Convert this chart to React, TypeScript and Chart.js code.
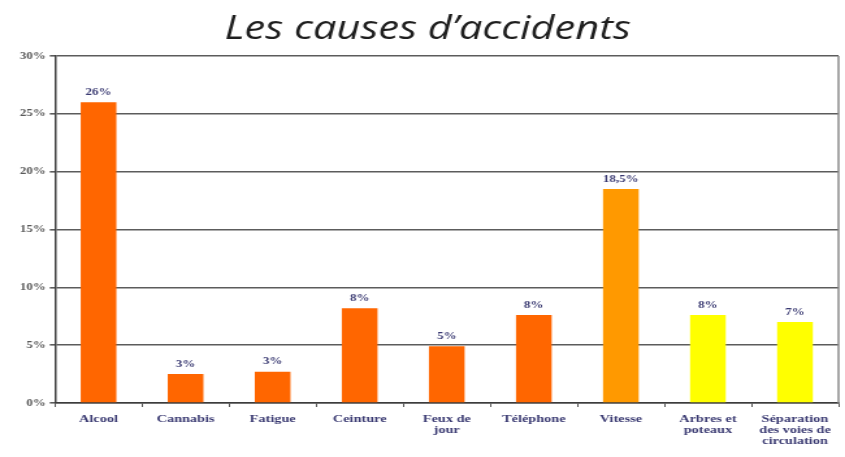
import React, { useEffect, useRef } from "react";
import { Chart, registerables } from "chart.js";

Chart.register(...registerables);

const categories: (string | string[])[] = [
  "Alcool",
  "Cannabis",
  "Fatigue",
  "Ceinture",
  ["Feux de", "jour"],
  "Téléphone",
  "Vitesse",
  ["Arbres et", "poteaux"],
  ["Séparation", "des voies de", "circulation"],
];
const values = [26, 2.5, 2.7, 8.2, 4.9, 7.6, 18.5, 7.6, 7.0];
const valueLabels = ["26%", "3%", "3%", "8%", "5%", "8%", "18,5%", "8%", "7%"];
const barColors = [
  "#FF6600", "#FF6600", "#FF6600", "#FF6600", "#FF6600", "#FF6600",
  "#FF9900", "#FFFF00", "#FFFF00",
];
const yTicks = [0, 5, 10, 15, 20, 25, 30];

// The reference picture is stretched horizontally; the chart is drawn on a
// narrower canvas and displayed at full width to reproduce that look.
const CANVAS_W = 650;
const CANVAS_H = 457;

const labelPlugin = {
  id: "valueLabels",
  afterDatasetsDraw(chart: any) {
    const ctx = chart.ctx;
    const meta = chart.getDatasetMeta(0);
    ctx.save();
    ctx.font = "bold 10px 'Liberation Serif', serif";
    ctx.fillStyle = "#3a3a72";
    ctx.textAlign = "center";
    ctx.textBaseline = "bottom";
    meta.data.forEach((el: any, i: number) => {
      ctx.fillText(valueLabels[i], el.x, el.y - 5);
    });
    ctx.restore();
  },
};

const borderPlugin = {
  id: "plotBorder",
  afterDraw(chart: any) {
    const { ctx, chartArea } = chart;
    ctx.save();
    ctx.strokeStyle = "#8a8a8a";
    ctx.lineWidth = 1.5;
    ctx.beginPath();
    ctx.moveTo(chartArea.right, chartArea.top);
    ctx.lineTo(chartArea.right, chartArea.bottom);
    ctx.stroke();
    ctx.restore();
  },
};

export default function App() {
  const ref = useRef<HTMLCanvasElement>(null);
  useEffect(() => {
    if (!ref.current) return;
    const chart = new Chart(ref.current, {
      type: "bar",
      data: {
        labels: categories,
        datasets: [
          {
            data: values,
            backgroundColor: barColors,
            borderWidth: 0,
            barPercentage: 0.41,
            categoryPercentage: 1,
          },
        ],
      },
      plugins: [labelPlugin, borderPlugin],
      options: {
        animation: false,
        responsive: false,
        maintainAspectRatio: false,
        layout: { padding: { left: 13, right: 5, top: 0, bottom: 0 } },
        plugins: {
          legend: { display: false },
          tooltip: { enabled: false },
          title: {
            display: true,
            text: "Les causes d’accidents",
            color: "#1e1e1e",
            font: { family: "'Open Sans', sans-serif", size: 32, style: "italic", weight: "normal", lineHeight: 1.2 },
            padding: { top: 11, bottom: 6.6 },
          },
        },
        scales: {
          x: {
            grid: {
              display: true,
              drawOnChartArea: false,
              drawTicks: true,
              tickLength: 4,
              color: "#555555",
              offset: true,
            },
            border: { display: true, color: "#3c3c3c", width: 1.5 },
            ticks: {
              color: "#3a3a72",
              font: { family: "'Liberation Serif', serif", size: 11, weight: "bold", lineHeight: 0.98 },
              padding: 7,
              maxRotation: 0,
              autoSkip: false,
            },
            afterFit(scale: any) {
              scale.height = 54;
            },
          },
          y: {
            min: 0,
            max: 30,
            afterBuildTicks(scale: any) {
              scale.ticks = yTicks.map((v) => ({ value: v }));
            },
            grid: {
              color: "#5c5c5c",
              lineWidth: 1.6,
              tickLength: 4,
            },
            border: { display: true, color: "#3c3c3c", width: 1.5 },
            ticks: {
              color: "#5a5a5a",
              font: { family: "'Liberation Serif', serif", size: 10, weight: "bold" },
              padding: 3,
              callback: (v: any) => v + "%",
            },
            afterFit(scale: any) {
              scale.width = 29.3;
            },
          },
        },
      },
    });
    return () => chart.destroy();
  }, []);
  return (
    <div style={{ position: "fixed", left: 0, top: 0, width: 845, height: 457, background: "#ffffff" }}>
      <canvas
        ref={ref}
        width={CANVAS_W}
        height={CANVAS_H}
        style={{ width: "845px", height: "457px", display: "block" }}
      />
    </div>
  );
}
